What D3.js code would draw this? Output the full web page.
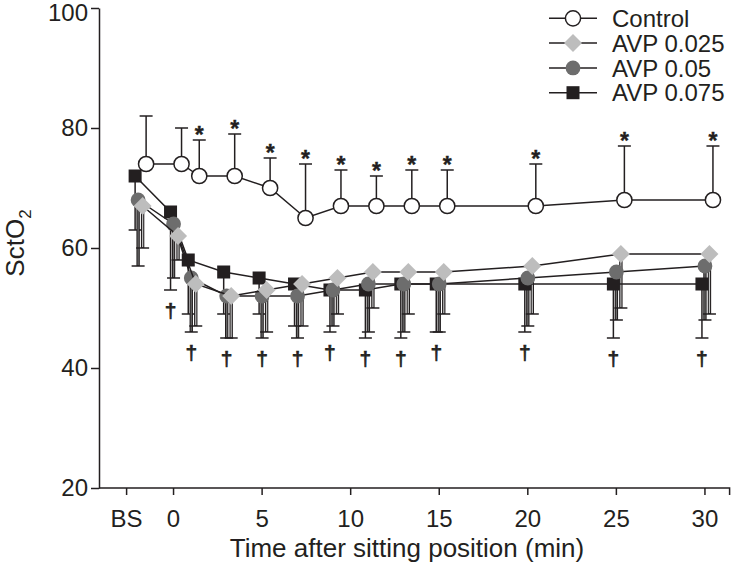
<!DOCTYPE html>
<html><head><meta charset="utf-8">
<script src="https://cdn.jsdelivr.net/npm/d3@7"></script>
<style>
body{margin:0;background:#fff}
text{font-family:"Liberation Sans",Arial,sans-serif;fill:#231f20}
</style>
</head><body>
<svg id="c" width="731" height="565"></svg>
<script>
// ---- data ----
const timeLabels = ["BS","0","1","3","5","7","9","11","13","15","20","25","30"];
const timePos    = [-2, 0, 1, 3, 5, 7, 9, 11, 13, 15, 20, 25, 30];
const xTickPos    = [-2.65, 0, 5, 10, 15, 20, 25, 30];
const xTickLabels = ["BS","0","5","10","15","20","25","30"];
const yTicks = [20, 40, 60, 80, 100];

const controlMean = [74,74,72,72,70,65,67,67,67,67,67,68,68];
const controlSD   = [8,6,6,7,5,9,6,5,6,6,7,9,9];
const avp025Mean  = [67,62,54,52,53,54,55,56,56,56,57,59,59];
const avp025SD    = [7,4,7,7,7,7,6,6,7,7,8,9,10];
const avp05Mean   = [68,64,55,52,52,52,53,54,54,54,55,56,57];
const avp05SD     = [11,9,9,7,7,7,6,8,8,8,8,8,9];
const avp075Mean  = [72,66,58,56,55,54,53,53,54,54,54,54,54];
const avp075SD    = [9,13,9,7,6,7,7,8,9,8,8,9,9];

const starFlags   = [0,0,1,1,1,1,1,1,1,1,1,1,1];
const daggerFlags = [0,1,1,1,1,1,1,1,1,1,1,1,1];

const seriesNames = ["Control","AVP 0.025","AVP 0.05","AVP 0.075"];

// ---- setup ----
const svg = d3.select("#c");
const ink = "#231f20";
const FONT = "Liberation Sans, Arial, sans-serif";
const x = d3.scaleLinear().domain([-4.18, 31.42]).range([99, 729.6]);
const y = d3.scaleLinear().domain([20, 100]).range([488, 8]);

const series = [
  {name: seriesNames[3], mean: avp075Mean, sd: avp075SD, dir: -1, dx: -2.5, shape: "square", fill: ink},
  {name: seriesNames[2], mean: avp05Mean,  sd: avp05SD,  dir: -1, dx: 0.5,  shape: "circle", fill: "#6d6d6d"},
  {name: seriesNames[1], mean: avp025Mean, sd: avp025SD, dir: -1, dx: 5,    shape: "diamond", fill: "#bdbdbd"},
  {name: seriesNames[0], mean: controlMean, sd: controlSD, dir: 1, dx: 8.5, shape: "open", fill: "#fff"}
];

function drawMarker(g, shape, fill, cx, cy) {
  if (shape === "square") {
    g.append("rect").attr("x", cx-6.5).attr("y", cy-6.5).attr("width", 13).attr("height", 13).attr("fill", fill);
  } else if (shape === "circle") {
    g.append("circle").attr("cx", cx).attr("cy", cy).attr("r", 7.4).attr("fill", fill);
  } else if (shape === "diamond") {
    g.append("path").attr("d", `M${cx},${cy-9}L${cx+9},${cy}L${cx},${cy+9}L${cx-9},${cy}Z`).attr("fill", fill);
  } else {
    g.append("circle").attr("cx", cx).attr("cy", cy).attr("r", 7.6).attr("fill", "#fff").attr("stroke", ink).attr("stroke-width", 1.5);
  }
}

// ---- axes ----
const yAxis = svg.append("g").attr("transform", "translate(99,0)")
  .call(d3.axisLeft(y).tickValues(yTicks).tickSize(8).tickSizeOuter(0).tickPadding(3));
yAxis.selectAll("line,path").attr("stroke", ink).attr("stroke-width", 1.5);
yAxis.selectAll("text").attr("font-size", 24).attr("fill", ink).attr("font-family", FONT);
yAxis.selectAll(".tick").filter(d => d === 100).select("text").attr("y", 5);

const xAxis = svg.append("g").attr("transform", "translate(0,488)")
  .call(d3.axisBottom(x).tickValues(xTickPos).tickFormat((d,i) => xTickLabels[i]).tickSize(7).tickPadding(15));
xAxis.select(".domain").attr("d", `M${x.range()[0]},0H${x.range()[1]}V7`);
xAxis.selectAll("line,path").attr("stroke", ink).attr("stroke-width", 1.5);
xAxis.selectAll("text").attr("font-size", 24).attr("fill", ink).attr("font-family", FONT);

svg.append("text").attr("x", 407).attr("y", 557).attr("text-anchor", "middle").attr("font-size", 26)
  .text("Time after sitting position (min)");

const yl = svg.append("text").attr("transform", "translate(24,243) rotate(-90)").attr("text-anchor", "middle").attr("font-size", 26);
yl.append("tspan").text("SctO");
yl.append("tspan").attr("font-size", 17).attr("dy", 7).text("2");

// ---- error bars ----
const eb = svg.append("g");
series.forEach(s => {
  s.mean.forEach((m, i) => {
    const cx = x(timePos[i]) + s.dx;
    const end = m + s.dir * s.sd[i];
    if (s.shape === "square" || s.shape === "open") {
      eb.append("line").attr("x1", cx).attr("x2", cx).attr("y1", y(m)).attr("y2", y(end)).attr("stroke", ink).attr("stroke-width", 1.5);
    } else {
      eb.append("line").attr("x1", cx).attr("x2", cx).attr("y1", y(m)).attr("y2", y(end)).attr("stroke", ink).attr("stroke-width", 3.4);
      eb.append("line").attr("x1", cx).attr("x2", cx).attr("y1", y(m)).attr("y2", y(end)-0.8).attr("stroke", s.fill).attr("stroke-width", 1.2);
    }
    eb.append("line").attr("x1", cx-6.5).attr("x2", cx+6.5).attr("y1", y(end)).attr("y2", y(end)).attr("stroke", ink).attr("stroke-width", 1.5);
  });
});

// ---- lines + markers ----
series.forEach(s => {
  const g = svg.append("g");
  const line = d3.line().x((d,i) => x(timePos[i]) + s.dx).y(d => y(d));
  g.append("path").attr("d", line(s.mean)).attr("fill", "none").attr("stroke", ink).attr("stroke-width", 1.5);
  s.mean.forEach((m, i) => drawMarker(g, s.shape, s.fill, x(timePos[i]) + s.dx, y(m)));
});

// ---- significance marks ----
const ctrl = series[3];
controlMean.forEach((m, i) => {
  if (!starFlags[i]) return;
  svg.append("text").attr("x", x(timePos[i]) + ctrl.dx).attr("y", y(m + controlSD[i]) + 3)
    .attr("text-anchor", "middle").attr("font-size", 23).attr("font-weight", "bold")
    .attr("font-family", "Liberation Sans, Arial, sans-serif")
    .attr("fill", ink).attr("stroke", ink).attr("stroke-width", 0.4).text("*");
});
timePos.forEach((t, i) => {
  if (!daggerFlags[i]) return;
  let lowest = Infinity, lx = x(t);
  series.slice(0,3).forEach(s => {
    const v = s.mean[i] - s.sd[i];
    if (v < lowest) { lowest = v; lx = x(t) + s.dx; }
  });
  svg.append("text").attr("x", lx).attr("y", y(lowest) + 28)
    .attr("text-anchor", "middle").attr("font-size", 21)
    .attr("font-family", "Liberation Sans, Arial, sans-serif")
    .attr("fill", ink).attr("stroke", ink).attr("stroke-width", 0.7).text("\u2020");
});

// ---- legend ----
const legendOrder = [series[3], series[2], series[1], series[0]];
legendOrder.forEach((s, k) => {
  const ly = 18.3 + k * 24.8;
  const g = svg.append("g");
  g.append("line").attr("x1", 549).attr("x2", 597).attr("y1", ly).attr("y2", ly).attr("stroke", ink).attr("stroke-width", 1.5);
  drawMarker(g, s.shape, s.fill, 573, ly);
  g.append("text").attr("x", 612).attr("y", ly).attr("dy", "0.36em").attr("font-size", 24).text(s.name);
});
</script>
</body></html>
